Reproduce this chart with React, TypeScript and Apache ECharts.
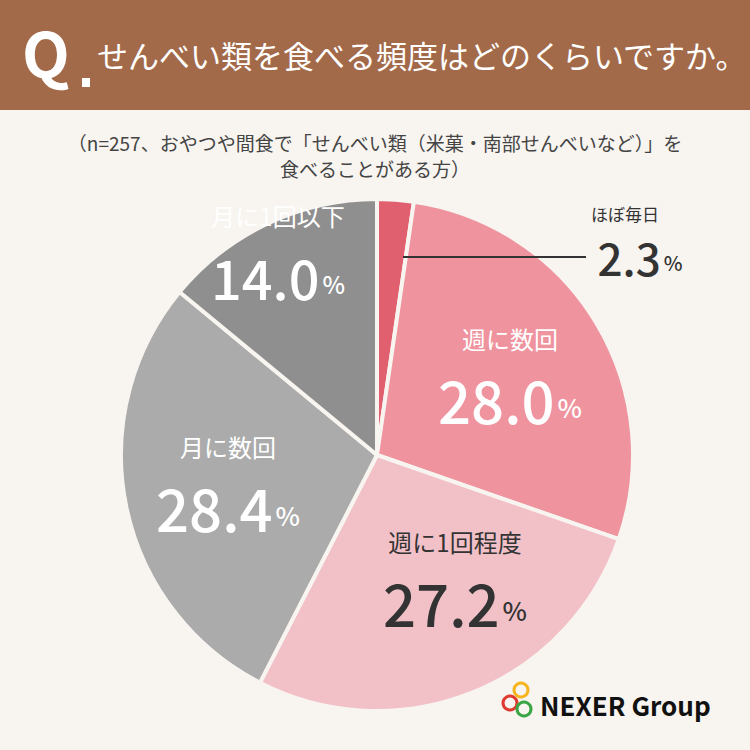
import React, { useEffect, useRef } from "react";
import * as echarts from "echarts";

const categories = ["ほぼ毎日", "週に数回", "週に1回程度", "月に数回", "月に1回以下"];
const values = [2.3, 28.0, 27.2, 28.4, 14.0];
const colors = ["#e0606f", "#ef939e", "#f2c1c8", "#ababab", "#8f8f8f"];
const labelPos: [number, number, string, number, number][] = [
  // x, y, color, nameSize, valueSize
  [625, 213, "#333", 17, 44],
  [510, 338, "#fff", 24, 58],
  [455, 541, "#333", 24, 58],
  [228, 446, "#fff", 24, 58],
  [278, 215, "#fff", 24, 54],
];

const FONT = "'Noto Sans CJK JP', 'Noto Sans', sans-serif";

export default function App() {
  const ref = useRef<HTMLDivElement>(null);
  useEffect(() => {
    const chart = echarts.init(ref.current!, null, { renderer: "svg" });
    const labels: any[] = [];
    categories.forEach((c, i) => {
      const [x, y, col, ns, vs] = labelPos[i];
      const first = i === 0;
      labels.push({
        type: "text", x, y, z: 100,
        style: { text: c, fill: col, font: `${ns}px ${FONT}`, textAlign: "center", textVerticalAlign: "middle" },
      });
      labels.push({
        type: "text", x: first ? x + 15 : x, y: y + (first ? 44 : 61), z: 100,
        style: {
          text: `{v|${values[i].toFixed(1)}}{p|%}`,
          textAlign: "center", textVerticalAlign: "middle",
          rich: {
            v: { fill: col, font: `500 ${vs}px ${FONT}`, lineHeight: Math.round(vs * 0.8) },
            p: { fill: col, font: `500 ${Math.round(vs * 0.45)}px ${FONT}`, padding: [Math.round(vs * 0.25), 0, 0, 3], lineHeight: Math.round(vs * 0.5) },
          },
        },
      });
    });
    chart.setOption({
      animation: false,
      backgroundColor: "#f8f4f0",
      series: [{
        type: "pie",
        center: [377, 455],
        radius: [0, 256],
        startAngle: 90,
        clockwise: true,
        label: { show: false },
        labelLine: { show: false },
        itemStyle: { borderColor: "#f8f4f0", borderWidth: 4 },
        data: categories.map((c, i) => ({ name: c, value: values[i], itemStyle: { color: colors[i] } })),
      }],
      graphic: [
        { type: "rect", shape: { x: 0, y: 0, width: 750, height: 110 }, style: { fill: "#a36a4a" } },
        { type: "text", x: 22, y: 20, style: { text: "Q", fill: "#fff", font: `bold 62px ${FONT}` } },
        { type: "rect", shape: { x: 82, y: 78, width: 8, height: 9 }, style: { fill: "#fff" } },
        { type: "text", x: 97, y: 54, style: { text: "せんべい類を食べる頻度はどのくらいですか。", fill: "#fff", font: `31px ${FONT}`, textVerticalAlign: "middle" } },
        { type: "text", x: 375, y: 142, style: { text: "（n=257、おやつや間食で「せんべい類（米菓・南部せんべいなど）」を", fill: "#444", font: `19px ${FONT}`, textAlign: "center", textVerticalAlign: "middle" } },
        { type: "text", x: 375, y: 168, style: { text: "食べることがある方）", fill: "#444", font: `19px ${FONT}`, textAlign: "center", textVerticalAlign: "middle" } },
        { type: "line", z: 100, shape: { x1: 403, y1: 257, x2: 586, y2: 257 }, style: { stroke: "#333", lineWidth: 2 } },
        ...labels,
        { type: "circle", shape: { cx: 510, cy: 703, r: 7 }, style: { fill: "none", stroke: "#e03a30", lineWidth: 3 } },
        { type: "circle", shape: { cx: 521, cy: 690, r: 7 }, style: { fill: "none", stroke: "#f5b51e", lineWidth: 3 } },
        { type: "circle", shape: { cx: 524, cy: 709, r: 7 }, style: { fill: "none", stroke: "#3aa544", lineWidth: 3 } },
        { type: "text", x: 540, y: 704, style: { text: "NEXER Group", fill: "#111", font: `bold 26px ${FONT}`, textVerticalAlign: "middle" } },
      ],
    });
    return () => chart.dispose();
  }, []);
  return <div ref={ref} style={{ position: "fixed", left: 0, top: 0, width: 750, height: 750 }} />;
}
